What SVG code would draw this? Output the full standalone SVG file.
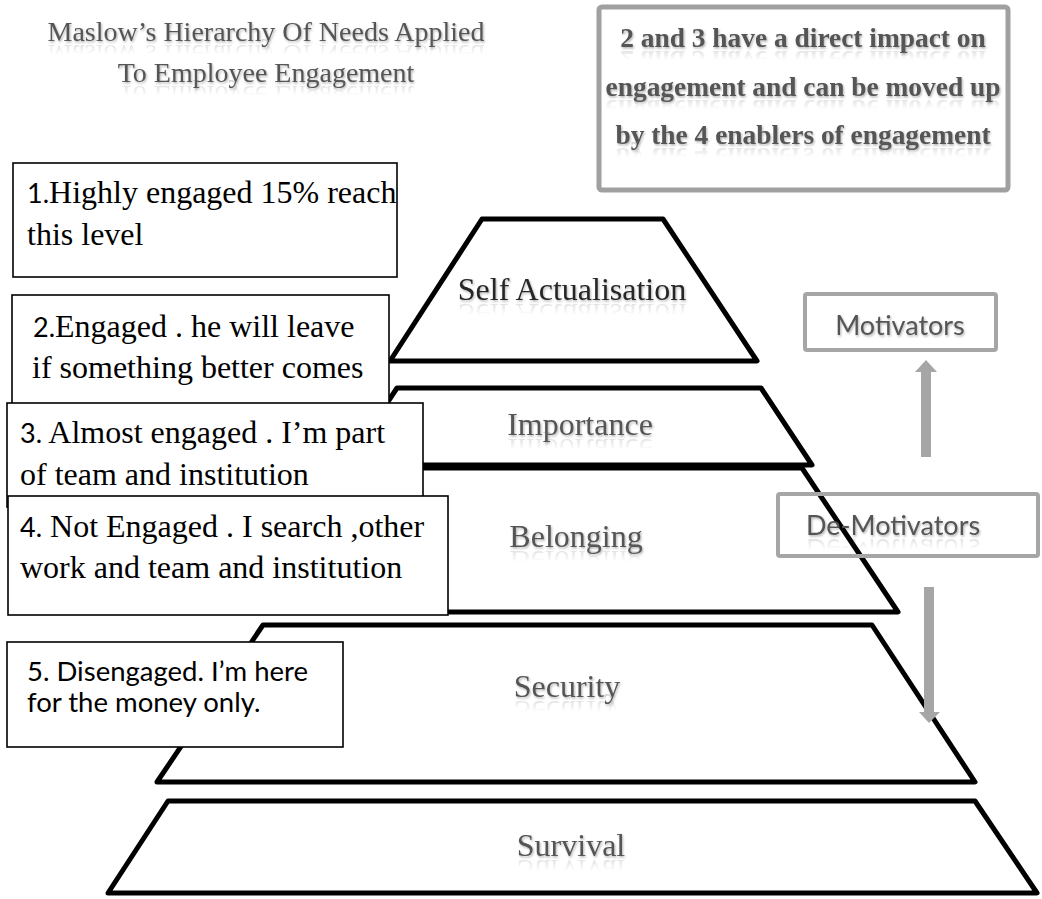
<svg xmlns="http://www.w3.org/2000/svg" width="1042" height="899" viewBox="0 0 1042 899">
  <style>
    .tier { fill: #ffffff; stroke: #000000; stroke-width: 5; stroke-linejoin: round; }
    .box { fill: #ffffff; stroke: #000000; stroke-width: 1.6; }
    .gbox { fill: none; stroke: #a6a6a6; stroke-width: 4; }
    .serif { font-family: "Liberation Serif", "Times New Roman", serif; }
    .sans { font-family: Lato, "Open Sans", "Liberation Sans", sans-serif; }
    .btxt { font-size: 32px; fill: #000000; }
    .num { font-family: Lato, "Open Sans", "Liberation Sans", sans-serif; font-size: 27px; }
    .glabel { fill: #555555; filter: url(#soft); }
    .refl { fill: url(#reflGrad); filter: url(#reflBlur); }
    .arrow { fill: #a6a6a6; }
  </style>
  <defs>
    <filter id="soft" x="-10%" y="-30%" width="120%" height="160%">
      <feDropShadow dx="1" dy="1.5" stdDeviation="1" flood-color="#000000" flood-opacity="0.3"/>
    </filter>
    <filter id="reflBlur" x="-5%" y="-20%" width="110%" height="140%">
      <feGaussianBlur stdDeviation="0.6"/>
    </filter>
    <!-- reflection fade: strongest next to the mirror axis (bottom of the flipped glyph box) -->
    <linearGradient id="reflGrad" x1="0" y1="0" x2="0" y2="1">
      <stop offset="0.5" stop-color="#666666" stop-opacity="0"/>
      <stop offset="1" stop-color="#666666" stop-opacity="0.3"/>
    </linearGradient>
  </defs>

  <rect width="1042" height="899" fill="#ffffff"/>

  <!-- title -->
  <g id="title" class="serif" font-size="28" text-anchor="middle">
    <text class="glabel" x="266" y="41">Maslow’s Hierarchy Of Needs Applied</text>
    <text class="glabel" x="266" y="82">To Employee Engagement</text>
    <text class="refl" x="266" y="41" transform="matrix(1 0 0 -1 0 86)">Maslow’s Hierarchy Of Needs Applied</text>
    <text class="refl" x="266" y="82" transform="matrix(1 0 0 -1 0 168)">To Employee Engagement</text>
  </g>

  <!-- note box -->
  <g id="note">
    <rect x="599" y="7" width="409" height="183" rx="3" fill="#ffffff" stroke="#a0a0a0" stroke-width="5"/>
    <g class="serif" font-size="27.4" font-weight="bold" text-anchor="middle">
      <text class="glabel" x="803" y="47">2 and 3 have a direct impact on</text>
      <text class="glabel" x="803" y="96">engagement and can be moved up</text>
      <text class="glabel" x="803" y="144">by the 4 enablers of engagement</text>
      <text class="refl" x="803" y="47" transform="matrix(1 0 0 -1 0 98)">2 and 3 have a direct impact on</text>
      <text class="refl" x="803" y="96" transform="matrix(1 0 0 -1 0 196)">engagement and can be moved up</text>
      <text class="refl" x="803" y="144" transform="matrix(1 0 0 -1 0 292)">by the 4 enablers of engagement</text>
    </g>
  </g>

  <!-- pyramid tiers -->
  <g id="tier-self" class="serif" font-size="32" text-anchor="middle">
    <polygon class="tier" points="482,219 663,219 757,361 390,361"/>
    <text class="glabel" x="572" y="300" style="fill:#262626">Self Actualisation</text>
    <text class="refl" x="572" y="300" transform="matrix(1 0 0 -1 0 604)">Self Actualisation</text>
  </g>
  <g id="tier-importance" class="serif" font-size="32" text-anchor="middle">
    <polygon class="tier" points="397,388 761,388 812,465 346,465"/>
    <text class="glabel" x="580" y="435">Importance</text>
    <text class="refl" x="580" y="435" transform="matrix(1 0 0 -1 0 874)">Importance</text>
  </g>
  <g id="tier-belonging" class="serif" font-size="32" text-anchor="middle">
    <polygon class="tier" points="342,468 802,468 898,612 246,612"/>
    <text class="glabel" x="576" y="547">Belonging</text>
    <text class="refl" x="576" y="547" transform="matrix(1 0 0 -1 0 1098)">Belonging</text>
  </g>
  <g id="tier-security" class="serif" font-size="32" text-anchor="middle">
    <polygon class="tier" points="263,625 872,625 975,782 157,782"/>
    <text class="glabel" x="567" y="697">Security</text>
    <text class="refl" x="567" y="697" transform="matrix(1 0 0 -1 0 1398)">Security</text>
  </g>
  <g id="tier-survival" class="serif" font-size="32" text-anchor="middle">
    <polygon class="tier" points="168,801 975,801 1037,893 108,893"/>
    <text class="glabel" x="571" y="856">Survival</text>
    <text class="refl" x="571" y="856" transform="matrix(1 0 0 -1 0 1716)">Survival</text>
  </g>

  <!-- engagement level call-outs -->
  <g id="level-1">
    <rect class="box" x="13" y="163" width="384" height="114"/>
    <text class="serif btxt" x="27" y="203"><tspan class="num">1.</tspan>Highly engaged 15% reach</text>
    <text class="serif btxt" x="27" y="245">this level</text>
  </g>
  <g id="level-2">
    <rect class="box" x="12" y="295" width="377" height="115"/>
    <text class="serif btxt" x="33" y="337"><tspan class="num">2.</tspan>Engaged . he will leave</text>
    <text class="serif btxt" x="32" y="378">if something better comes</text>
  </g>
  <g id="level-3">
    <rect class="box" x="7" y="403" width="416" height="104"/>
    <text class="serif btxt" x="20" y="443"><tspan class="num">3.</tspan> Almost engaged . I’m part</text>
    <text class="serif btxt" x="20" y="485">of team and institution</text>
  </g>
  <g id="level-4">
    <rect class="box" x="8" y="496" width="440" height="119"/>
    <text class="serif btxt" x="20" y="537"><tspan class="num">4.</tspan> Not Engaged . I search ,other</text>
    <text class="serif btxt" x="20" y="578">work and team and institution</text>
  </g>
  <g id="level-5">
    <rect class="box" x="7" y="642" width="336" height="105"/>
    <text class="sans" font-size="27.5" fill="#000000" x="27" y="681">5. Disengaged. I’m here</text>
    <text class="sans" font-size="27.5" fill="#000000" x="27" y="712">for the money only.</text>
  </g>

  <!-- motivator labels -->
  <g id="motivators">
    <rect class="gbox" x="805" y="294" width="191" height="56" rx="2"/>
    <text class="sans glabel" font-size="27" x="900" y="335" text-anchor="middle">Motivators</text>
  </g>
  <g id="demotivators" class="sans" font-size="27" text-anchor="middle">
    <rect class="gbox" x="778" y="494" width="260" height="62" rx="2"/>
    <text class="glabel" x="893" y="535">De-Motivators</text>
    <text class="refl" x="893" y="535" transform="matrix(1 0 0 -1 0 1074)">De-Motivators</text>
  </g>

  <!-- connectors -->
  <g id="connectors">
    <g id="arrow-up">
      <rect class="arrow" x="921" y="371" width="10" height="86"/>
      <polygon class="arrow" points="915,372 926,360 937,372"/>
    </g>
    <g id="arrow-down">
      <rect class="arrow" x="924" y="587" width="10" height="126"/>
      <polygon class="arrow" points="919,712 929,723 940,712"/>
    </g>
  </g>
</svg>
